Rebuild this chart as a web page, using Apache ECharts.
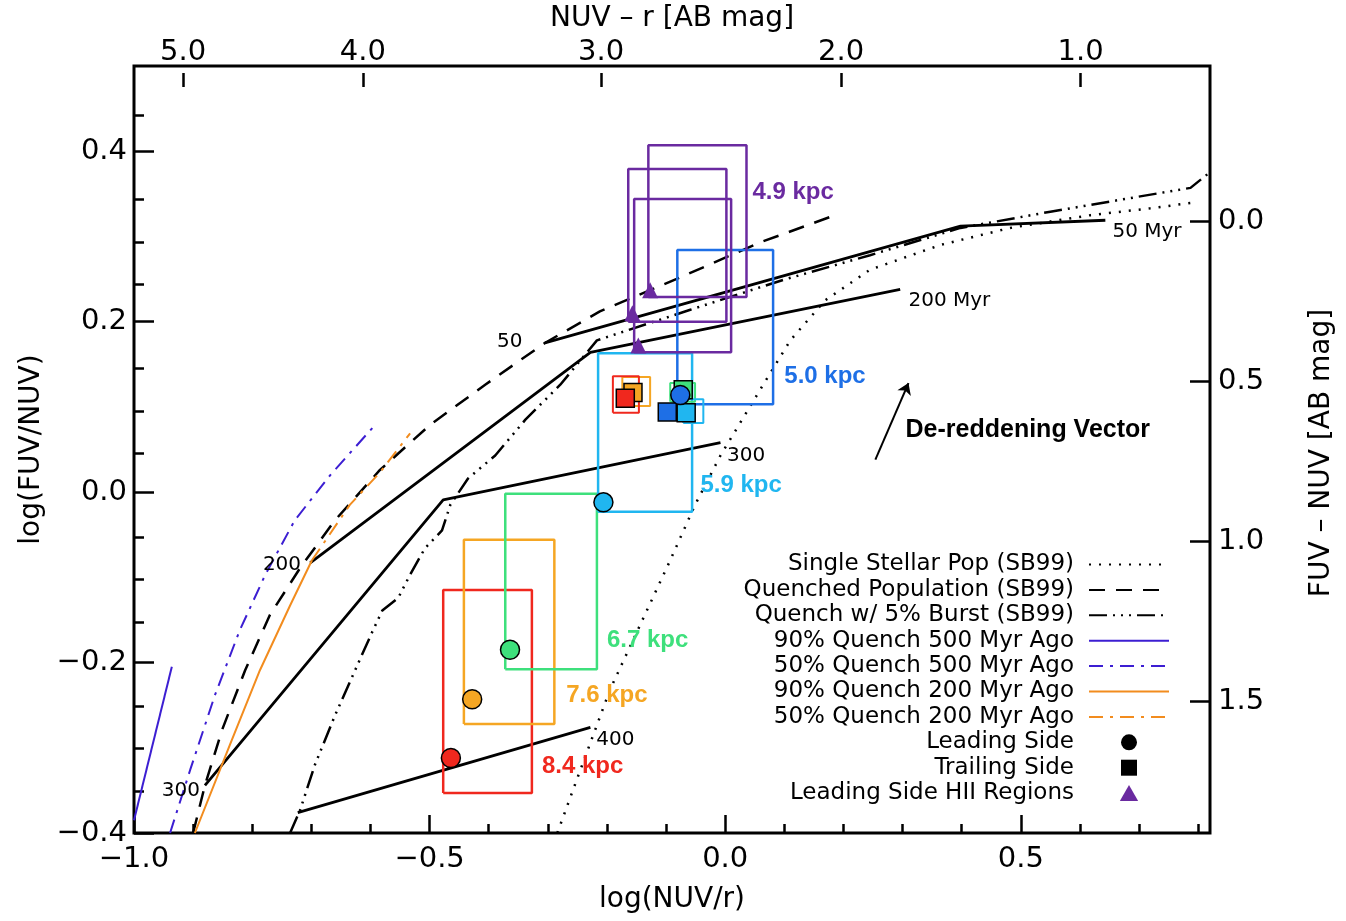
<!DOCTYPE html>
<html>
<head>
<meta charset="utf-8">
<script src="https://cdn.jsdelivr.net/npm/echarts@6/dist/echarts.min.js"></script>
<style>
  html, body { margin: 0; padding: 0; background: #ffffff; }
  #chart { width: 1346px; height: 921px; }
</style>
</head>
<body>
<div id="chart"></div>
<script>
// ---------- model tracks, log(NUV/r) vs log(FUV/NUV) ----------
const sspTrack = [
  [-0.284, -0.400], [-0.245, -0.326], [-0.195, -0.232], [-0.144, -0.156],
  [-0.093, -0.080], [-0.051, -0.015], [-0.008, 0.043], [0.059, 0.120],
  [0.110, 0.178], [0.169, 0.225], [0.245, 0.261], [0.364, 0.290],
  [0.482, 0.310], [0.618, 0.325], [0.719, 0.333], [0.795, 0.340]
];
const quenchedTrack = [
  [-0.900, -0.400], [-0.880, -0.344], [-0.851, -0.279], [-0.812, -0.209],
  [-0.770, -0.144], [-0.719, -0.089], [-0.660, -0.033], [-0.584, 0.026],
  [-0.499, 0.079], [-0.406, 0.126], [-0.305, 0.175], [-0.212, 0.212],
  [-0.076, 0.252], [0.059, 0.293], [0.186, 0.325]
];
const burstTrack = [
  [-0.736, -0.400], [-0.719, -0.373], [-0.694, -0.320], [-0.660, -0.262],
  [-0.626, -0.209], [-0.597, -0.164], [-0.580, -0.139], [-0.553, -0.124],
  [-0.533, -0.097], [-0.508, -0.066], [-0.479, -0.045], [-0.465, -0.015],
  [-0.435, 0.016], [-0.389, 0.043], [-0.338, 0.085], [-0.279, 0.126],
  [-0.217, 0.178], [-0.059, 0.214], [0.098, 0.249], [0.245, 0.278],
  [0.398, 0.310], [0.550, 0.329], [0.685, 0.345], [0.787, 0.357], [0.821, 0.376]
];
const quench90at500 = [[-1.000, -0.385], [-0.936, -0.205]];
const quench50at500 = [
  [-0.939, -0.400], [-0.905, -0.326], [-0.863, -0.238], [-0.821, -0.162],
  [-0.778, -0.097], [-0.728, -0.033], [-0.668, 0.020], [-0.592, 0.079]
];
const quench90at200 = [
  [-0.897, -0.400], [-0.838, -0.297], [-0.787, -0.209], [-0.736, -0.133], [-0.699, -0.080]
];
const quench50at200 = [[-0.699, -0.080], [-0.635, -0.015], [-0.584, 0.023], [-0.533, 0.069]];

// constant-age lines
const age50 = [[-0.305, 0.175], [0.398, 0.312], [0.643, 0.319]];
const age200 = [[-0.702, -0.083], [-0.228, 0.164], [0.296, 0.238]];
const age300 = [[-0.880, -0.344], [-0.477, -0.009], [-0.008, 0.058]];
const age400 = [[-0.723, -0.376], [-0.228, -0.276]];
const ageLabels = ['50', '50 Myr', '200', '200 Myr', '300', '300', '400'];
const ageLabelAt = [
  [-0.386, 0.176], [0.655, 0.306], [-0.782, -0.085], [0.310, 0.225],
  [-0.953, -0.350], [0.003, 0.043], [-0.218, -0.291]
];

// ---------- measured regions ----------
const regionNames = ['8.4 kpc', '7.6 kpc', '6.7 kpc', '5.9 kpc', '5.0 kpc'];
const leadingPoints = [
  [-0.464, -0.312], [-0.428, -0.243], [-0.364, -0.185], [-0.206, -0.012], [-0.076, 0.114]
];
// [xMin, xMax, yMin, yMax]
const leadingBoxes = [
  [-0.477, -0.327, -0.353, -0.115],
  [-0.442, -0.289, -0.272, -0.056],
  [-0.372, -0.217, -0.208, -0.002],
  [-0.215, -0.056, -0.023, 0.163],
  [-0.081, 0.081, 0.103, 0.284]
];
const regionLabelAt = [
  [-0.310, -0.322], [-0.269, -0.238], [-0.200, -0.174], [-0.042, 0.008], [0.100, 0.136]
];

const trailingPoints = [
  [-0.156, 0.117], [-0.169, 0.110], [-0.071, 0.120], [-0.098, 0.094], [-0.066, 0.093]
];
const trailingBoxes = [
  [-0.174, -0.127, 0.101, 0.135],
  [-0.190, -0.146, 0.093, 0.136],
  [-0.093, -0.051, 0.106, 0.128],
  [-0.071, -0.037, 0.081, 0.109]
];

const hiiName = '4.9 kpc';
const hiiPoints = [[-0.127, 0.237], [-0.157, 0.210], [-0.147, 0.172]];
const hiiBoxes = [
  [-0.130, 0.036, 0.229, 0.407],
  [-0.164, 0.002, 0.200, 0.379],
  [-0.154, 0.010, 0.164, 0.344]
];
const hiiLabelAt = [0.046, 0.352];

const dereddenVector = [[0.254, 0.038], [0.310, 0.128]];
const dereddenLabel = 'De-reddening Vector';
const dereddenLabelAt = [0.305, 0.073];

// ---------- axes ----------
const bottomMajor = [-1.0, -0.5, 0.0, 0.5];
const bottomMinor = [-0.9, -0.8, -0.7, -0.6, -0.4, -0.3, -0.2, -0.1, 0.1, 0.2, 0.3, 0.4, 0.6, 0.7, 0.8];
const leftMajor = [-0.4, -0.2, 0.0, 0.2, 0.4];
const leftMinor = [-0.35, -0.3, -0.25, -0.15, -0.1, -0.05, 0.05, 0.1, 0.15, 0.25, 0.3, 0.35, 0.45];
const topTickLabels = ['5.0', '4.0', '3.0', '2.0', '1.0'];
const topTickAt = [-0.917, -0.613, -0.210, 0.196, 0.601];   // NUV - r ticks placed on the log(NUV/r) scale
const rightTicks = [0.0, 0.5, 1.0, 1.5];

// ---------- styles ----------
const FONT = 'DejaVu Sans';
const BOLD = 'Liberation Sans';
const regionColors = ['#f0281e', '#f5a623', '#3ee07c', '#20b6f0', '#1e6fe6'];
const trailingColors = ['#f5a623', '#f0281e', '#3ee07c', '#1e6fe6', '#20b6f0'];
const trailingBoxColors = ['#f5a623', '#f0281e', '#3ee07c', '#20b6f0'];
const PURPLE = '#6a2aa0';
const INDIGO = '#3c1ed2';
const ORANGE = '#f28c1e';

const fmt = v => (v < 0 ? '\u2212' : '') + Math.abs(v).toFixed(1);
const boxPath = b => [[b[0], b[2]], [b[1], b[2]], [b[1], b[3]], [b[0], b[3]], [b[0], b[2]]];

function curve(name, data, color, width, type) {
  return {
    type: 'line', name, data, symbol: 'none', showSymbol: false, smooth: false,
    lineStyle: { color, width, type }, itemStyle: { color }, silent: true, z: 3
  };
}
function box(data, color, width) {
  return {
    type: 'line', data: boxPath(data), symbol: 'none', showSymbol: false,
    lineStyle: { color, width, type: 'solid' }, itemStyle: { color }, silent: true, z: 4
  };
}
function textLayer(texts, anchors, colors, font, size, weight) {
  return {
    type: 'scatter', symbolSize: 0, silent: true, z: 10,
    itemStyle: { opacity: 1 },
    data: texts.map((t, i) => ({ name: t, value: anchors[i], label: { color: colors[i] } })),
    label: {
      show: true, formatter: '{b}', position: 'inside', align: 'left', verticalAlign: 'middle',
      fontFamily: font, fontSize: size, fontWeight: weight, opacity: 1
    }
  };
}

const series = [];
series.push(curve('', age50, '#000', 2.8, 'solid'));
series.push(curve('', age200, '#000', 2.8, 'solid'));
series.push(curve('', age300, '#000', 2.8, 'solid'));
series.push(curve('', age400, '#000', 2.8, 'solid'));
series.push(curve('Single Stellar Pop (SB99)', sspTrack, '#000', 2.5, [2, 8]));
series.push(curve('Quenched Population (SB99)', quenchedTrack, '#000', 2.5, [16, 11]));
series.push(curve('Quench w/ 5% Burst (SB99)', burstTrack, '#000', 2.5, [18, 6, 2, 6, 2, 6, 2, 6]));
series.push(curve('90% Quench 500 Myr Ago', quench90at500, INDIGO, 2, 'solid'));
series.push(curve('50% Quench 500 Myr Ago', quench50at500, INDIGO, 2, [14, 7, 3, 7]));
series.push(curve('90% Quench 200 Myr Ago', quench90at200, ORANGE, 2, 'solid'));
series.push(curve('50% Quench 200 Myr Ago', quench50at200, ORANGE, 2, [14, 7, 3, 7]));

leadingBoxes.forEach((b, i) => series.push(box(b, regionColors[i], 2.5)));
hiiBoxes.forEach(b => series.push(box(b, PURPLE, 2.5)));
trailingBoxes.forEach((b, i) => series.push(box(b, trailingBoxColors[i], 2)));

series.push({
  type: 'lines', coordinateSystem: 'cartesian2d', silent: true, z: 5,
  symbol: ['none', 'arrow'], symbolSize: 11,
  lineStyle: { color: '#000', width: 2, opacity: 1, curveness: 0 },
  data: [{ coords: dereddenVector }]
});

series.push({
  type: 'scatter', name: 'Trailing Side', symbol: 'rect', symbolSize: 18, z: 6,
  itemStyle: { color: '#000', opacity: 1 },
  data: trailingPoints.map((p, i) => ({
    value: p, itemStyle: { color: trailingColors[i], borderColor: '#000', borderWidth: 1.5, opacity: 1 }
  }))
});
series.push({
  type: 'scatter', name: 'Leading Side', symbol: 'circle', symbolSize: 19, z: 7,
  itemStyle: { color: '#000', opacity: 1 },
  data: leadingPoints.map((p, i) => ({
    value: p, itemStyle: { color: regionColors[i], borderColor: '#000', borderWidth: 1.5, opacity: 1 }
  }))
});
series.push({
  type: 'scatter', name: 'Leading Side HII Regions', symbol: 'triangle', symbolSize: 16, z: 7,
  itemStyle: { color: PURPLE, opacity: 1 },
  data: hiiPoints
});

series.push(textLayer(ageLabels, ageLabelAt, ageLabels.map(() => '#000'), FONT, 20, 'normal'));
series.push(textLayer(regionNames.concat([hiiName]), regionLabelAt.concat([hiiLabelAt]),
  regionColors.concat([PURPLE]), BOLD, 24, 'bold'));
series.push(textLayer([dereddenLabel], [dereddenLabelAt], ['#000'], BOLD, 25, 'bold'));

const tickStyle = { color: '#000', width: 2.5 };
const labelStyle = { fontFamily: FONT, fontSize: 29, color: '#000' };
const nameStyle = { fontFamily: FONT, fontSize: 28, color: '#000' };
const hiddenLine = { show: false, onZero: false };

// legend entries: lines show only their stroke, markers use fixed-aspect shapes
const lineEntry = name => ({ name, itemStyle: { opacity: 0 } });
const legendData = [
  lineEntry('Single Stellar Pop (SB99)'), lineEntry('Quenched Population (SB99)'),
  lineEntry('Quench w/ 5% Burst (SB99)'), lineEntry('90% Quench 500 Myr Ago'),
  lineEntry('50% Quench 500 Myr Ago'), lineEntry('90% Quench 200 Myr Ago'),
  lineEntry('50% Quench 200 Myr Ago'),
  { name: 'Leading Side', icon: 'circle' },
  { name: 'Trailing Side', icon: 'path://M0,0 L10,0 L10,10 L0,10 Z' },
  { name: 'Leading Side HII Regions', icon: 'path://M5,2 L9,9 L1,9 Z' }
];

const option = {
  animation: false,
  backgroundColor: '#ffffff',
  grid: [
    { left: 134, top: 66, right: 136, bottom: 88, show: true, borderColor: '#000', borderWidth: 3, backgroundColor: 'transparent' },
    { left: 134, top: 66, right: 136, bottom: 88 }
  ],
  xAxis: [
    {
      gridIndex: 0, type: 'value', position: 'bottom', min: -1.0, max: 0.82,
      axisLine: hiddenLine, splitLine: { show: false },
      axisTick: { inside: true, length: 18, customValues: bottomMajor, lineStyle: tickStyle },
      axisLabel: Object.assign({ customValues: bottomMajor, formatter: fmt, margin: 12 }, labelStyle),
      name: 'log(NUV/r)', nameLocation: 'middle', nameGap: 53, nameTextStyle: nameStyle
    },
    {
      gridIndex: 1, type: 'value', position: 'bottom', min: -1.0, max: 0.82,
      axisLine: hiddenLine, splitLine: { show: false },
      axisTick: { inside: true, length: 9, customValues: bottomMinor, lineStyle: tickStyle },
      axisLabel: { show: false }
    },
    {
      gridIndex: 1, type: 'value', position: 'top', min: -1.0, max: 0.82,
      axisLine: hiddenLine, splitLine: { show: false },
      axisTick: { inside: true, length: 14, customValues: topTickAt, lineStyle: tickStyle },
      axisLabel: Object.assign({
        customValues: topTickAt, margin: 6,
        formatter: v => {
          let k = 0;
          topTickAt.forEach((t, i) => { if (Math.abs(t - v) < Math.abs(topTickAt[k] - v)) k = i; });
          return topTickLabels[k];
        }
      }, labelStyle),
      name: 'NUV \u2013 r [AB mag]', nameLocation: 'middle', nameGap: 40, nameTextStyle: nameStyle
    }
  ],
  yAxis: [
    {
      gridIndex: 0, type: 'value', position: 'left', min: -0.4, max: 0.5,
      axisLine: hiddenLine, splitLine: { show: false },
      axisTick: { inside: true, length: 20, customValues: leftMajor, lineStyle: tickStyle },
      axisLabel: Object.assign({ customValues: leftMajor, formatter: fmt, margin: 7 }, labelStyle),
      name: 'log(FUV/NUV)', nameLocation: 'middle', nameGap: 80, nameTextStyle: nameStyle
    },
    {
      gridIndex: 1, type: 'value', position: 'left', min: -0.4, max: 0.5,
      axisLine: hiddenLine, splitLine: { show: false },
      axisTick: { inside: true, length: 10, customValues: leftMinor, lineStyle: tickStyle },
      axisLabel: { show: false }
    },
    {
      gridIndex: 1, type: 'value', position: 'right', min: -0.465, max: 1.912, inverse: true,
      axisLine: hiddenLine, splitLine: { show: false },
      axisTick: { inside: true, length: 20, customValues: rightTicks, lineStyle: tickStyle },
      axisLabel: Object.assign({ customValues: rightTicks, formatter: fmt, margin: 8 }, labelStyle),
      name: 'FUV \u2013 NUV [AB mag]', nameLocation: 'middle', nameGap: 98, nameTextStyle: nameStyle
    }
  ],
  legend: {
    orient: 'vertical', right: 176, top: 553, align: 'right', padding: 0,
    itemWidth: 80, itemHeight: 16, itemGap: 2.4, selectedMode: false,
    textStyle: { fontFamily: FONT, fontSize: 23, color: '#000', padding: [0, 10, 0, 0] },
    data: legendData
  },
  series
};

const chart = echarts.init(document.getElementById('chart'), null, { renderer: 'canvas' });
chart.setOption(option);
</script>
</body>
</html>
